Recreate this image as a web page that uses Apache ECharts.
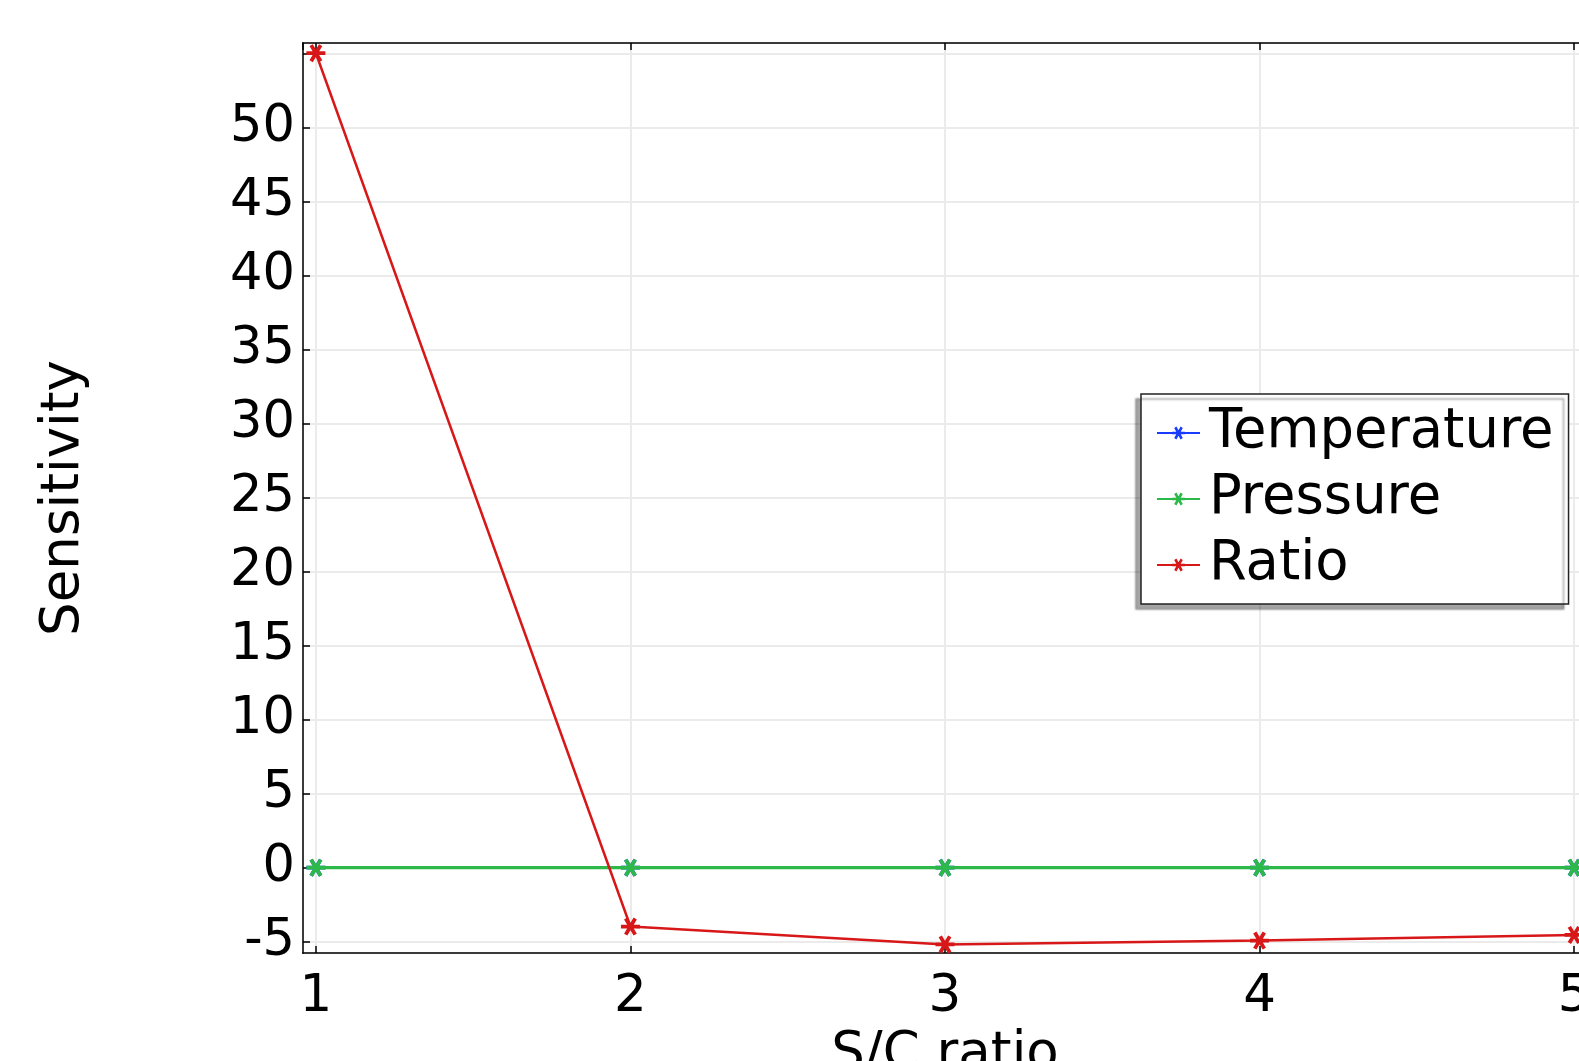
<!DOCTYPE html>
<html>
<head>
<meta charset="utf-8">
<script src="https://cdn.jsdelivr.net/npm/echarts@6/dist/echarts.min.js"></script>
<style>
html,body{margin:0;padding:0;background:#fff;}
#c{width:1579px;height:1061px;}
</style>
</head>
<body>
<div id="c"></div>
<script>
const scRatio = [1, 2, 3, 4, 5];
const temperature = [0, 0, 0, 0, 0];
const pressure = [0, 0, 0, 0, 0];
const ratio = [55.05, -3.98, -5.19, -4.93, -4.55];
const seriesNames = ['Temperature', 'Pressure', 'Ratio'];
const seriesColors = ['#1a3cff', '#2db84a', '#d81818'];

const star = 'path://M-10,-2L10,-2L10,2L-10,2Z' +
  'M-3.268,-9.66L6.732,7.66L3.268,9.66L-6.732,-7.66Z' +
  'M6.732,-7.66L-3.268,9.66L-6.732,7.66L3.268,-9.66Z';

const FONT = 'DejaVu Sans';
const pts = arr => scRatio.map((x, i) => [x, arr[i]]);

const chart = echarts.init(document.getElementById('c'), null, {renderer: 'canvas'});
const mk = (name, data, color, width, z) => ({
  name, type: 'line', data: pts(data), z,
  symbol: star, symbolSize: [19, 18], showSymbol: true,
  itemStyle: {color}, lineStyle: {color, width},
  emphasis: {disabled: true}, animation: false, clip: true
});
chart.setOption({
  animation: false,
  backgroundColor: '#fff',
  grid: {left: 303, top: 43, right: -8, bottom: 108, show: true, borderColor: '#000', borderWidth: 1.5,
    backgroundColor: 'transparent', containLabel: false, outerBoundsMode: 'none'},
  legend: {
    orient: 'vertical', left: 1141, top: 394,
    padding: [11, 15, 11, 15],
    itemWidth: 43, itemHeight: 16, itemGap: 10,
    backgroundColor: '#fff', borderColor: '#222', borderWidth: 1.5,
    shadowColor: 'rgba(0,0,0,0.35)', shadowBlur: 2, shadowOffsetX: -5, shadowOffsetY: 5,
    textStyle: {fontFamily: FONT, fontSize: 54.4, color: '#000', lineHeight: 56, padding: [0, 0, 0, 4]},
    data: seriesNames
  },
  xAxis: [{
    type: 'value', min: 0.959, max: 5.041, splitNumber: 4,
    name: 'S/C ratio', nameLocation: 'middle', nameGap: 64,
    nameTextStyle: {fontFamily: FONT, fontSize: 53, color: '#000'},
    axisLine: {show: true, onZero: false, lineStyle: {color: '#000', width: 1.5}},
    axisTick: {show: true, inside: true, length: 7, lineStyle: {color: '#000', width: 1.5}},
    axisLabel: {fontFamily: FONT, fontSize: 51.5, color: '#000', margin: 19, showMinLabel: false, showMaxLabel: false,
      hideOverlap: false,
      formatter: v => Math.abs(v - Math.round(v)) < 1e-6 ? String(Math.round(v)) : ''},
    splitLine: {show: true, lineStyle: {color: '#ebebeb', width: 2}}
  }, {
    type: 'value', position: 'top', min: 0.959, max: 5.041, splitNumber: 4,
    axisLine: {show: true, onZero: false, lineStyle: {color: '#000', width: 1.5}},
    axisTick: {show: true, inside: true, length: 7, lineStyle: {color: '#000', width: 1.5}},
    axisLabel: {show: false}, splitLine: {show: false}
  }],
  yAxis: {
    type: 'value', min: -5.77, max: 55.74, splitNumber: 12,
    name: 'Sensitivity', nameLocation: 'middle', nameGap: 212,
    nameTextStyle: {fontFamily: FONT, fontSize: 53, color: '#000'},
    axisLine: {show: true, onZero: false, lineStyle: {color: '#000', width: 1.5}},
    axisTick: {show: true, inside: true, length: 7, lineStyle: {color: '#000', width: 1.5}},
    axisLabel: {fontFamily: FONT, fontSize: 51, color: '#000', margin: 8, showMinLabel: false, showMaxLabel: false,
      formatter: v => (Math.abs(v - Math.round(v / 5) * 5) < 1e-6 && v < 52.5) ? String(Math.round(v)) : ''},
    splitLine: {show: true, lineStyle: {color: '#ebebeb', width: 2}}
  },
  series: [
    mk(seriesNames[0], temperature, seriesColors[0], 2.5, 2),
    mk(seriesNames[1], pressure, seriesColors[1], 3.2, 3),
    mk(seriesNames[2], ratio, seriesColors[2], 2.5, 4)
  ]
});
</script>
</body>
</html>
